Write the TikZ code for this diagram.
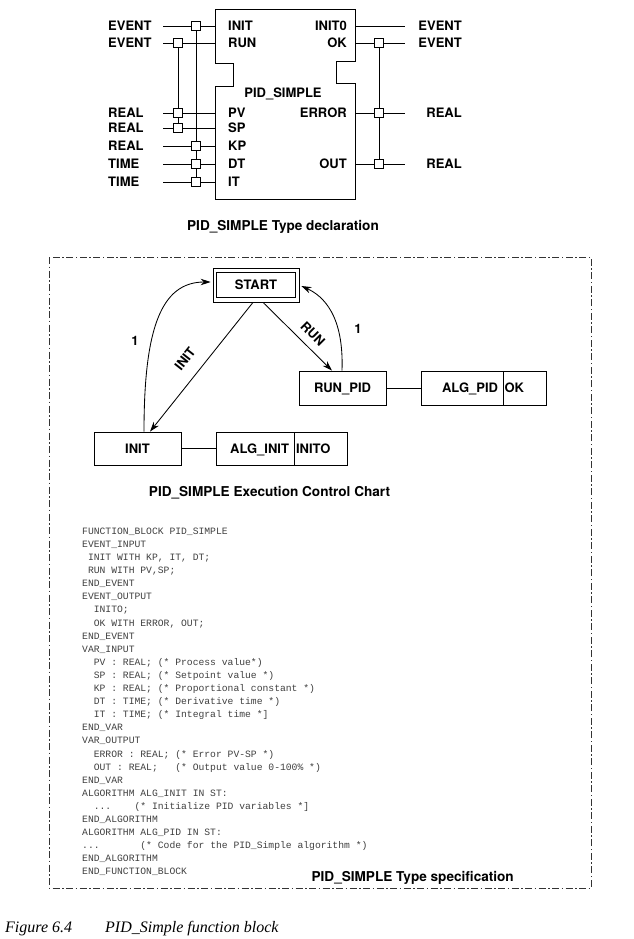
\documentclass[tikz,border=0pt]{standalone}
\usepackage{fontspec}
\newfontfamily\hv{TeX Gyre Heros}
\newfontfamily\cour{Liberation Mono}
\newfontfamily\tms{Liberation Serif}
\usetikzlibrary{arrows.meta}
\begin{document}
\begin{tikzpicture}[x=1pt,y=-1pt,
  lbl/.style={font=\hv\bfseries\fontsize{13}{13}\selectfont, inner sep=0pt, text height=9.4pt, text depth=0pt},
  captxt/.style={font=\hv\bfseries\fontsize{13.6}{13.6}\selectfont, inner sep=0pt, text height=9.8pt, text depth=0pt},
  sq/.style={draw, fill=white, line width=0.7pt, minimum size=8.5pt, inner sep=0pt},
  ln/.style={line width=0.75pt},
  stbox/.style={draw, line width=0.75pt, inner sep=0pt, minimum height=33pt, font=\hv\bfseries\fontsize{13}{13}\selectfont, text height=9.4pt, text depth=0pt},
  arr/.style={line width=0.85pt, -{Stealth[length=10pt,width=6.5pt]}},
  dashdot/.style={draw=black!80, line width=0.8pt, dash pattern=on 7pt off 2.5pt on 1.5pt off 2.5pt}
]
\useasboundingbox (0,0) rectangle (633,939);

% ---------------- Function block type declaration ----------------
\draw[ln] (215,9) -- (355,9) -- (355,61) -- (336,61) -- (336,83) -- (355,83)
  -- (355,199) -- (215,199) -- (215,86) -- (233,86) -- (233,63) -- (215,63) -- cycle;

\foreach \n/\y in {INIT/26, RUN/43, PV/113, SP/128, KP/146, DT/164, IT/182}{
  \coordinate (l\n) at (163,\y);
  \coordinate (p\n) at (215,\y);
  \draw[ln] (l\n) -- (p\n);
}
\foreach \n/\y in {INITO/26, OK/43, ERROR/113, OUT/164}{
  \coordinate (q\n) at (355,\y);
  \coordinate (r\n) at (405,\y);
  \draw[ln] (q\n) -- (r\n);
}
% associations
\coordinate (aTop) at (196,26);  \coordinate (aBot) at (196,182);
\coordinate (bTop) at (178,43);  \coordinate (bBot) at (178,128);
\coordinate (cTop) at (379,43);  \coordinate (cBot) at (379,164);
\draw[ln] (aTop) -- (aBot);
\draw[ln] (bTop) -- (bBot);
\draw[ln] (cTop) -- (cBot);
\node[sq] (sqINIT) at (196,26) {};
\node[sq] (sqKP) at (196,146) {};
\node[sq] (sqDT) at (196,164) {};
\node[sq] (sqIT) at (196,182) {};
\node[sq] (sqRUN) at (178,43) {};
\node[sq] (sqPV) at (178,113) {};
\node[sq] (sqSP) at (178,128) {};
\node[sq] (sqOK) at (379,43) {};
\node[sq] (sqERROR) at (379,113) {};
\node[sq] (sqOUT) at (379,164) {};

% left type labels
\node[lbl, anchor=west] (tINIT) at (108,26) {EVENT};
\node[lbl, anchor=west] (tRUN) at (108,43) {EVENT};
\node[lbl, anchor=west] (tPV) at (108,113) {REAL};
\node[lbl, anchor=west] (tSP) at (108,128) {REAL};
\node[lbl, anchor=west] (tKP) at (108,146) {REAL};
\node[lbl, anchor=west] (tDT) at (108,164) {TIME};
\node[lbl, anchor=west] (tIT) at (108,182) {TIME};
% left port labels
\node[lbl, anchor=west] (nINIT) at (228,26) {INIT};
\node[lbl, anchor=west] (nRUN) at (228,43) {RUN};
\node[lbl, anchor=west] (nPV) at (228,113) {PV};
\node[lbl, anchor=west] (nSP) at (228,128) {SP};
\node[lbl, anchor=west] (nKP) at (228,146) {KP};
\node[lbl, anchor=west] (nDT) at (228,164) {DT};
\node[lbl, anchor=west] (nIT) at (228,182) {IT};
% right port labels
\node[lbl, anchor=east] (nINITO) at (347,26) {INIT0};
\node[lbl, anchor=east] (nOK) at (347,43) {OK};
\node[lbl, anchor=east] (nERROR) at (347,113) {ERROR};
\node[lbl, anchor=east] (nOUT) at (347,164) {OUT};
% right type labels
\node[lbl, anchor=east] (tINITO) at (462,26) {EVENT};
\node[lbl, anchor=east] (tOK) at (462,43) {EVENT};
\node[lbl, anchor=east] (tERROR) at (462,113) {REAL};
\node[lbl, anchor=east] (tOUT) at (462,164) {REAL};

\node[lbl] (fbname) at (283,93) {PID\_SIMPLE};
\node[captxt] (cap1) at (283,226) {PID\_SIMPLE Type declaration};

% ---------------- dashed frame ----------------
\draw[dashdot] (49,257) rectangle (591,888);

% ---------------- ECC ----------------
\node[stbox, minimum width=86pt, minimum height=34pt] (start) at (256,285) {START};
\draw[line width=0.75pt] ([shift={(4pt,-5pt)}]start.north west) rectangle ([shift={(-4pt,5pt)}]start.south east);
\node[stbox, minimum width=87pt] (init) at (137.5,448.5) {INIT};
\node[stbox, minimum width=78pt, text width=68pt, align=right, inner xsep=5pt] (alginit) at (255,448.5) {ALG\_INIT};
\node[stbox, minimum width=53pt, text width=49pt, align=left, inner xsep=2pt] (inito) at (320.5,448.5) {INITO};
\node[stbox, minimum width=87pt, minimum height=34pt] (runpid) at (342.5,388) {RUN\_PID};
\node[stbox, minimum width=82pt, minimum height=34pt, text width=72pt, align=right, inner xsep=5pt] (algpid) at (462,388) {ALG\_PID};
\node[stbox, minimum width=43pt, minimum height=34pt, text width=40pt, align=left, inner xsep=1.5pt] (okout) at (524.5,388) {OK};

\draw[ln] (init) -- (alginit);
\draw[ln] (runpid) -- (algpid);

\draw[arr] ([xshift=-3pt]start.south) -- ([xshift=12.5pt]init.north);
\draw[arr] ([xshift=7pt]start.south) -- ([xshift=-10.5pt]runpid.north);
\draw[arr] ([xshift=6.5pt]init.north) .. controls +(0,-102) and +(-50,0) .. ([shift={(-2pt,3pt)}]start.west);
\draw[arr] ([xshift=-0.5pt]runpid.north) .. controls +(2,-55) and +(22,10) .. ([shift={(2pt,-1pt)}]start.east);

\node[lbl] (one1) at (135,341) {1};
\node[lbl] (one2) at (358,329) {1};
\node[lbl, rotate=51.6] (tinit) at (185,359) {INIT};
\node[lbl, rotate=-45] (trun) at (313,334) {RUN};

\node[captxt] (cap2) at (269.5,492) {PID\_SIMPLE Execution Control Chart};

% ---------------- Type specification ----------------
\node[anchor=north west, inner sep=0pt, align=left, text=black!75,
      font=\cour\fontsize{9.7}{13.1}\selectfont] (code) at (82,525) {\strut FUNCTION\_BLOCK PID\_SIMPLE\\
EVENT\_INPUT\\
\ INIT WITH KP, IT, DT;\\
\ RUN WITH PV,SP;\\
END\_EVENT\\
EVENT\_OUTPUT\\
\ \ INITO;\\
\ \ OK WITH ERROR, OUT;\\
END\_EVENT\\
VAR\_INPUT\\
\ \ PV : REAL; (* Process value*)\\
\ \ SP : REAL; (* Setpoint value *)\\
\ \ KP : REAL; (* Proportional constant *)\\
\ \ DT : TIME; (* Derivative time *)\\
\ \ IT : TIME; (* Integral time *]\\
END\_VAR\\
VAR\_OUTPUT\\
\ \ ERROR : REAL; (* Error PV-SP *)\\
\ \ OUT : REAL;\ \ \ (* Output value 0-100\% *)\\
END\_VAR\\
ALGORITHM ALG\_INIT IN ST:\\
\ \ ...\ \ \ \ (* Initialize PID variables *]\\
END\_ALGORITHM\\
ALGORITHM ALG\_PID IN ST:\\
...\ \ \ \ \ \ \ (* Code for the PID\_Simple algorithm *)\\
END\_ALGORITHM\\
END\_FUNCTION\_BLOCK};

\node[captxt, anchor=east] (cap3) at (514,877) {PID\_SIMPLE Type specification};

% ---------------- Figure caption ----------------
\node[anchor=west, inner sep=0pt, text height=10.6pt, text depth=0pt, font=\tms\itshape\fontsize{16}{16}\selectfont] (fig) at (5,927) {Figure 6.4};
\node[anchor=west, inner sep=0pt, text height=10.6pt, text depth=0pt, font=\tms\itshape\fontsize{16}{16}\selectfont] (figt) at (105,927) {PID\_Simple function block};
\end{tikzpicture}
\end{document}
